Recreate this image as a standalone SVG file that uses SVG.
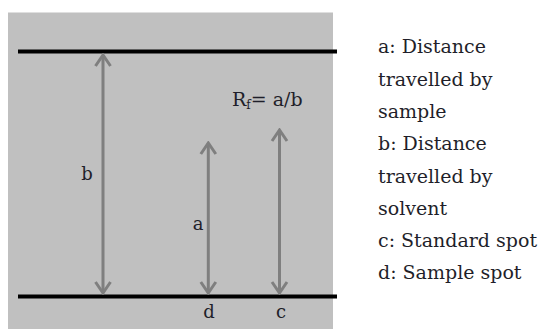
<svg xmlns="http://www.w3.org/2000/svg" width="542" height="329" viewBox="0 0 542 329">
<defs>
<style>
.t{font-family:"DejaVu Serif","Liberation Serif",serif;font-size:19px;fill:#1f1f2a}
.lbl{font-family:"DejaVu Serif","Liberation Serif",serif;font-size:18px;fill:#1f1f2a;text-anchor:middle}
.arr{stroke:#7f7f7f;stroke-width:3;fill:none;marker-start:url(#ah);marker-end:url(#ah)}
.bar{stroke:#000;stroke-width:4}
</style>
<marker id="ah" markerUnits="userSpaceOnUse" viewBox="-14 -10 16 20" refX="0" refY="0" markerWidth="16" markerHeight="20" orient="auto-start-reverse">
<path d="M-11,-7.5 L0,0 L-11,7.5" fill="none" stroke="#7f7f7f" stroke-width="3" stroke-linejoin="miter"/>
</marker>
</defs>
<rect width="542" height="329" fill="#fff"/>
<rect id="plate" x="8" y="12.5" width="325" height="317" fill="#c0c0c0"/>
<g id="solvent-front"><line class="bar" x1="18" y1="51.5" x2="337" y2="51.5"/></g>
<g id="baseline"><line class="bar" x1="18" y1="296.5" x2="337" y2="296.5"/></g>
<g id="connectors">
<line class="arr" x1="103" y1="55" x2="103" y2="293"/>
<line class="arr" x1="208.3" y1="143" x2="208.3" y2="293"/>
<line class="arr" x1="279.5" y1="130" x2="279.5" y2="293"/>
</g>
<g id="label-b"><text class="lbl" x="87" y="180">b</text></g>
<g id="label-a"><text class="lbl" x="198" y="230">a</text></g>
<g id="label-d"><text class="lbl" x="209" y="318">d</text></g>
<g id="label-c"><text class="lbl" x="281" y="318">c</text></g>
<g id="formula"><text class="t" x="232" y="106">R<tspan font-size="12" dy="3">f</tspan><tspan dy="-3">= a/b</tspan></text></g>
<g id="legend">
<text class="t" x="378" y="53">a: Distance</text>
<text class="t" x="378" y="85.5">travelled by</text>
<text class="t" x="378" y="118">sample</text>
<text class="t" x="378" y="150">b: Distance</text>
<text class="t" x="378" y="182.5">travelled by</text>
<text class="t" x="378" y="214.5">solvent</text>
<text class="t" x="378" y="246.5">c: Standard spot</text>
<text class="t" x="378" y="278.5">d: Sample spot</text>
</g>
</svg>
